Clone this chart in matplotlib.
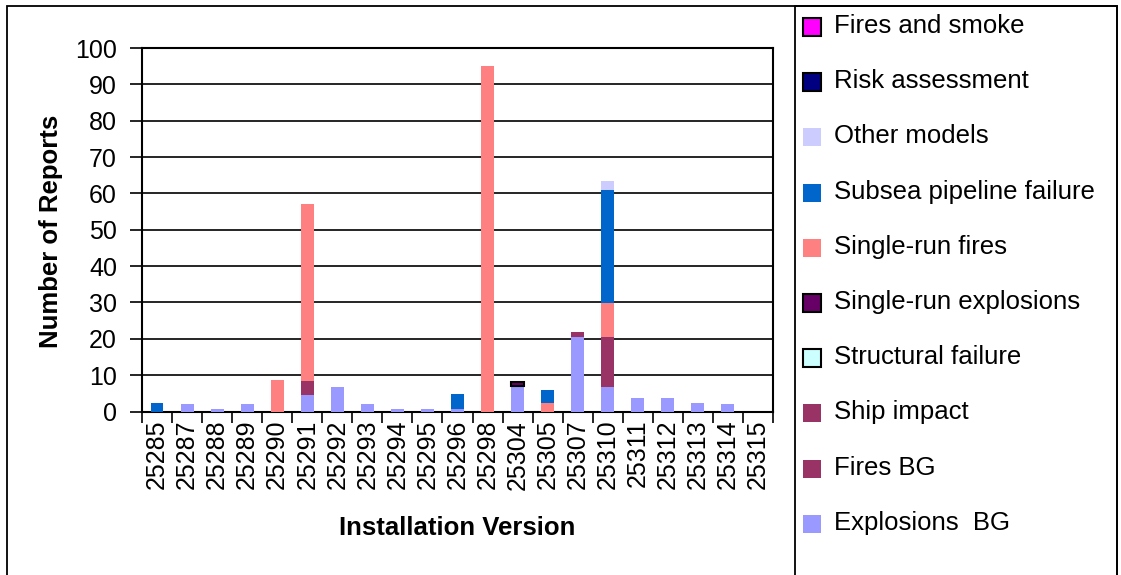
import matplotlib.pyplot as plt
from matplotlib.patches import Rectangle
import numpy as np

plt.rcParams['font.family'] = ['Liberation Sans', 'DejaVu Sans']

W, H = 1121, 575

versions = ["25285", "25287", "25288", "25289", "25290", "25291", "25292",
            "25293", "25294", "25295", "25296", "25298", "25304", "25305",
            "25307", "25310", "25311", "25312", "25313", "25314", "25315"]

# stacked from bottom to top
explosions_bg = [0, 2.1, 0.7, 2.1, 0, 4.6, 6.8, 2.1, 0.7, 0.7, 0.7, 0,
                 6.9, 0, 20.6, 6.8, 3.8, 3.8, 2.3, 2.1, 0]
fires_bg = [0, 0, 0, 0, 0, 3.9, 0, 0, 0, 0, 0, 0,
            0, 0, 1.4, 13.8, 0, 0, 0, 0, 0]
ship_impact = [0] * 21
structural_failure = [0] * 21
single_run_explosions = [0, 0, 0, 0, 0, 0, 0, 0, 0, 0, 0, 0,
                         1.3, 0, 0, 0, 0, 0, 0, 0, 0]
single_run_fires = [0, 0, 0, 0, 8.6, 48.7, 0, 0, 0, 0, 0, 95,
                    0, 2.4, 0, 9.3, 0, 0, 0, 0, 0]
subsea_pipeline = [2.4, 0, 0, 0, 0, 0, 0, 0, 0, 0, 4.2, 0,
                   0, 3.6, 0, 30.9, 0, 0, 0, 0, 0]
other_models = [0, 0, 0, 0, 0, 0, 0, 0, 0, 0, 0, 0,
                0, 0, 0, 2.7, 0, 0, 0, 0, 0]
risk_assessment = [0] * 21
fires_and_smoke = [0] * 21

# (label, values, colour, black border)
series = [
    ("Explosions  BG", explosions_bg, "#9999FF", False),
    ("Fires BG", fires_bg, "#993366", False),
    ("Ship impact", ship_impact, "#993366", False),
    ("Structural failure", structural_failure, "#CCFFFF", True),
    ("Single-run explosions", single_run_explosions, "#660066", True),
    ("Single-run fires", single_run_fires, "#FF8080", False),
    ("Subsea pipeline failure", subsea_pipeline, "#0066CC", False),
    ("Other models", other_models, "#CCCCFF", False),
    ("Risk assessment", risk_assessment, "#000080", True),
    ("Fires and smoke", fires_and_smoke, "#FF00FF", True),
]

fig = plt.figure(figsize=(W / 100, H / 100), dpi=100)
ax = fig.add_axes([142 / W, 1 - 411.5 / H, (773 - 142) / W, (411.5 - 48) / H])

x = np.arange(len(versions))
bottom = np.zeros(len(versions))
for label, vals, color, edge in series:
    vals = np.array(vals, dtype=float)
    if edge:
        ec = ["black" if v > 0 else "none" for v in vals]
        lw = 1.5
    else:
        ec = "none"
        lw = 0
    ax.bar(x, vals, width=0.43, bottom=bottom, color=color,
           edgecolor=ec, linewidth=lw, zorder=3)
    bottom += vals

ax.set_xlim(-0.5, len(versions) - 0.5)
ax.set_ylim(0, 100)
ax.set_yticks(range(0, 101, 10))
ax.yaxis.grid(True, color="black", linewidth=1.2)
ax.set_axisbelow(True)

ax.set_xticks(x)
ax.set_xticklabels(versions, rotation=90)
ax.set_xticks(np.arange(-0.5, len(versions)), minor=True)
ax.tick_params(axis="x", which="major", length=0, pad=6, labelsize=18)
ax.tick_params(axis="x", which="minor", length=8, width=1.2, direction="out")
ax.tick_params(axis="y", length=9, width=1.2, direction="out",
               pad=9, labelsize=18)
for s in ax.spines.values():
    s.set_linewidth(1.5)
    s.set_color("black")

fig.text(51 / W, 1 - 231 / H, "Number of Reports", rotation=90,
         ha="center", va="center", fontsize=18.5, fontweight="bold")
fig.text(457 / W, 1 - 528 / H, "Installation Version",
         ha="center", va="center", fontsize=18.5, fontweight="bold")

# outer chart frame and legend box
fig.patches.append(Rectangle((7 / W, -0.05), (1117 - 7) / W, 1.05 - 6 / H,
                             transform=fig.transFigure, fill=False,
                             edgecolor="black", linewidth=1.3))
fig.patches.append(Rectangle((795 / W, -0.05), (1117 - 795) / W, 1.05 - 6 / H,
                             transform=fig.transFigure, fill=False,
                             edgecolor="black", linewidth=1.3))

# legend, top entry is the last stacked series
for i, (label, vals, color, edge) in enumerate(series[::-1]):
    cy = 27 + i * 55.2
    fig.patches.append(Rectangle((803 / W, 1 - (cy + 9) / H), 18 / W, 18 / H,
                                 transform=fig.transFigure, facecolor=color,
                                 edgecolor="black" if edge else "none",
                                 linewidth=1.5 if edge else 0))
    fig.text(834 / W, 1 - (cy + 6) / H, label, ha="left", va="baseline",
             fontsize=18.5)

fig.savefig("out.png", dpi=100)
